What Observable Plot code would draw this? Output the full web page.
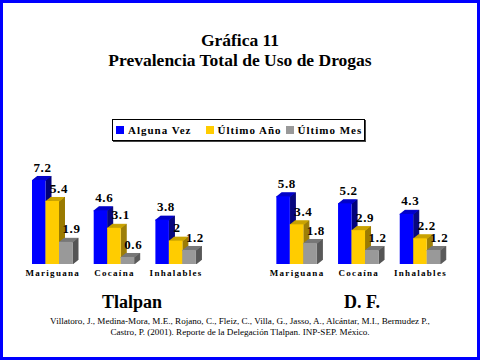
<!DOCTYPE html>
<html>
<head>
<meta charset="utf-8">
<script src="https://cdn.jsdelivr.net/npm/d3@7"></script>
<script src="https://cdn.jsdelivr.net/npm/@observablehq/plot@0.6"></script>
<style>
  html, body { margin: 0; padding: 0; background: #fff; }
  #page { position: relative; width: 480px; height: 360px; overflow: hidden;
          font-family: "Liberation Serif", "Times New Roman", serif; color: #000;
          box-shadow: inset 0 0 0 3px #0000ff; }
  .abs { position: absolute; }
  #title { left: 0; width: 480px; top: 31px; text-align: center; font-weight: bold; font-size: 17.5px; line-height: 19.5px; }
  #legend { left: 112px; top: 119px; width: 251px; height: 20px; border: 1px solid #000;
            box-shadow: 1px 1px 0 #444; display: flex; align-items: center; font-weight: bold;
            font-size: 11px; letter-spacing: 1px; background: #fff; }
  .item { display: flex; align-items: center; white-space: nowrap; }
  .sw { width: 8px; height: 8px; display: inline-block; margin-right: 4px; }
  .region { top: 292px; font-weight: bold; font-size: 18px; transform: translateX(-50%); white-space: nowrap; }
  #cite { left: 0; width: 480px; top: 316px; text-align: center; font-size: 9.1px; line-height: 11px; }
  #chart { left: 0; top: 150px; }
  #chart svg text { font-family: "Liberation Serif", "Times New Roman", serif; }
</style>
</head>
<body>
<div id="page">
  <div id="title" class="abs">Gráfica 11<br>Prevalencia Total de Uso de Drogas</div>
  <div id="legend" class="abs"></div>
  <div id="chart" class="abs"></div>
  <div id="regions"></div>
  <div id="cite" class="abs">Villatoro, J., Medina-Mora, M.E., Rojano, C., Fleiz, C., Villa, G., Jasso, A., Alcántar, M.I., Bermudez P.,<br>Castro, P. (2001). Reporte de la Delegación Tlalpan. INP-SEP. México.</div>
</div>
<script>
// ---- data ----
const regions = ["Tlalpan", "D. F."];
const drugs = ["Mariguana", "Cocaína", "Inhalables"];
const series = ["Alguna Vez", "Último Año", "Último Mes"];
const tlalpanValues = [[7.2, 5.4, 1.9], [4.6, 3.1, 0.6], [3.8, 2, 1.2]];
const dfValues = [[5.8, 3.4, 1.8], [5.2, 2.9, 1.2], [4.3, 2.2, 1.2]];

// ---- styling ----
const frontColors = ["#0000ff", "#ffcc00", "#999999"];
const sideColors = ["#00007a", "#9a7b00", "#555555"];
const topColors = ["#0000c8", "#c9a200", "#777777"];
const labelDx = [1, 4, 3];
const regionStride = 18.1, groupStride = 4.57; // in bar-width units
const depthX = 5, depthY = 4;
const serif = '"Liberation Serif", "Times New Roman", serif';

const valuesByRegion = [tlalpanValues, dfValues];
const data = [];
regions.forEach((r, ri) => drugs.forEach((d, di) => series.forEach((s, si) => {
  const x1 = ri * regionStride + di * groupStride + si;
  data.push({region: r, drug: d, series: s, si, value: valuesByRegion[ri][di][si], x1, x2: x1 + 1});
})));
const cats = [];
regions.forEach((r, ri) => drugs.forEach((d, di) => {
  cats.push({drug: d, x: ri * regionStride + di * groupStride + 1.5});
}));

const marks = [];
series.forEach((s, si) => {
  const sub = data.filter(d => d.si === si);
  for (let i = 0; i <= 10; i++) {
    const dx = i * depthX / 10, dy = -i * depthY / 10;
    marks.push(Plot.ruleX(sub, {x: "x2", y1: 0, y2: "value", dx, dy, stroke: sideColors[si], strokeWidth: 1}));
  }
  for (let i = 0; i <= 10; i++) {
    const dx = i * depthX / 10, dy = -i * depthY / 10;
    marks.push(Plot.ruleY(sub, {y: "value", x1: "x1", x2: "x2", dx, dy, stroke: topColors[si], strokeWidth: 1}));
  }
  marks.push(Plot.rect(sub, {x1: "x1", x2: "x2", y1: 0, y2: "value", fill: frontColors[si]}));
});
series.forEach((s, si) => {
  marks.push(Plot.text(data.filter(d => d.si === si), {x: "x1", y: "value", text: d => String(d.value),
    textAnchor: "start", dx: labelDx[si], dy: -13, fontSize: 13, fontWeight: "bold", fill: "#000"}));
});
marks.push(Plot.text(cats, {x: "x", y: 0, text: "drug", dy: 9, fontSize: 9, fontWeight: "bold", fill: "#000"}));

const chart = Plot.plot({
  width: 480, height: 135,
  margin: 0,
  style: {background: "transparent", overflow: "visible"},
  x: {type: "linear", domain: [0, 10], range: [32, 167], axis: null},
  y: {type: "linear", domain: [0, 8], range: [114, 114 - 8 * 11.67], axis: null},
  marks
});
chart.style.fontFamily = serif;
document.getElementById("chart").appendChild(chart);
d3.select(chart).selectAll("text").attr("font-family", serif);
d3.select(chart).selectAll("text").filter(function () { return drugs.includes(this.textContent); })
  .attr("letter-spacing", "1.3px");
d3.select(chart).selectAll("text").filter(function () { return /^[0-9.]+$/.test(this.textContent); })
  .attr("letter-spacing", "0.6px");

// legend
const legend = document.getElementById("legend");
const legendGaps = [3, 14, 4];
series.forEach((s, si) => {
  const it = document.createElement("span");
  it.className = "item";
  it.style.marginLeft = legendGaps[si] + "px";
  it.innerHTML = `<span class="sw" style="background:${frontColors[si]}"></span>${s}`;
  legend.appendChild(it);
});

// region labels
const regionCenters = [132, 362];
const rdiv = document.getElementById("regions");
regions.forEach((r, ri) => {
  const el = document.createElement("div");
  el.className = "abs region";
  el.style.left = regionCenters[ri] + "px";
  el.textContent = r;
  rdiv.appendChild(el);
});
</script>
</body>
</html>
